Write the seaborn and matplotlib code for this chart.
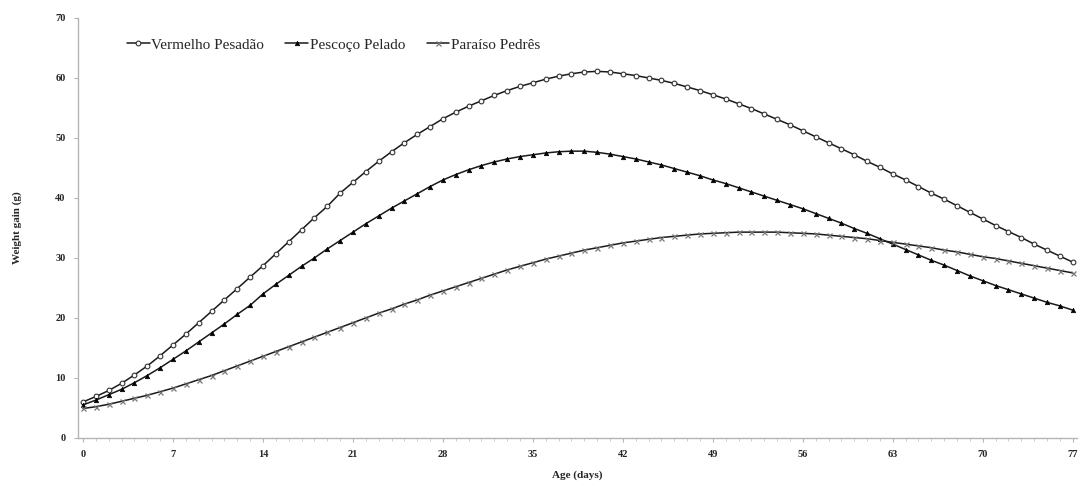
import numpy as np
import pandas as pd
import matplotlib
matplotlib.use("Agg")
import matplotlib.pyplot as plt
from matplotlib.ticker import MultipleLocator
import seaborn as sns

# Data (weight gain per day, g)
days = list(range(0, 78))

vermelho = [6.0, 6.9, 7.9, 9.1, 10.5, 12.0, 13.7, 15.5, 17.3, 19.2,
            21.1, 23.0, 24.9, 26.8, 28.7, 30.7, 32.7, 34.7, 36.7, 38.6,
            40.8, 42.6, 44.4, 46.1, 47.7, 49.2, 50.6, 51.9, 53.2, 54.3,
            55.3, 56.2, 57.1, 57.9, 58.6, 59.2, 59.8, 60.3, 60.7, 61.0,
            61.1, 61.0, 60.7, 60.4, 60.0, 59.6, 59.1, 58.5, 57.9, 57.2,
            56.5, 55.7, 54.9, 54.0, 53.1, 52.2, 51.2, 50.2, 49.2, 48.2,
            47.2, 46.1, 45.1, 44.0, 43.0, 41.9, 40.8, 39.8, 38.7, 37.6,
            36.5, 35.4, 34.4, 33.4, 32.3, 31.3, 30.3, 29.3]

pescoco = [5.5, 6.3, 7.2, 8.1, 9.2, 10.4, 11.7, 13.1, 14.5, 16.0,
           17.5, 19.0, 20.6, 22.1, 24.0, 25.6, 27.1, 28.6, 30.0, 31.5,
           32.9, 34.3, 35.7, 37.0, 38.3, 39.5, 40.7, 41.9, 43.0, 43.9,
           44.7, 45.4, 46.0, 46.5, 46.9, 47.2, 47.5, 47.7, 47.8, 47.8,
           47.6, 47.3, 46.9, 46.5, 46.0, 45.5, 44.9, 44.3, 43.7, 43.0,
           42.4, 41.7, 41.0, 40.3, 39.6, 38.9, 38.2, 37.4, 36.6, 35.8,
           34.9, 34.1, 33.2, 32.3, 31.4, 30.5, 29.6, 28.8, 27.9, 27.0,
           26.2, 25.4, 24.7, 24.0, 23.3, 22.6, 22.0, 21.3]

paraiso = [4.9, 5.2, 5.6, 6.1, 6.6, 7.1, 7.7, 8.3, 9.0, 9.7,
           10.4, 11.2, 12.0, 12.8, 13.6, 14.4, 15.2, 16.0, 16.8, 17.6,
           18.4, 19.2, 20.0, 20.8, 21.5, 22.3, 23.0, 23.8, 24.5, 25.2,
           25.9, 26.6, 27.3, 28.0, 28.6, 29.2, 29.8, 30.3, 30.8, 31.3,
           31.7, 32.1, 32.5, 32.8, 33.1, 33.4, 33.6, 33.8, 34.0, 34.1,
           34.2, 34.3, 34.3, 34.3, 34.3, 34.2, 34.1, 34.0, 33.8, 33.6,
           33.4, 33.2, 32.9, 32.6, 32.3, 32.0, 31.7, 31.3, 31.0, 30.6,
           30.2, 29.9, 29.5, 29.1, 28.7, 28.3, 27.9, 27.5]

series_names = ["Vermelho Pesadão", "Pescoço Pelado", "Paraíso Pedrês"]
x_ticks = list(range(0, 78, 7))

df = pd.DataFrame({
    "Age": days * 3,
    "Gain": vermelho + pescoco + paraiso,
    "Breed": [series_names[0]] * 78 + [series_names[1]] * 78 + [series_names[2]] * 78,
})

sns.set_theme(style="white")
plt.rcParams["font.family"] = ["Liberation Serif", "DejaVu Serif"]

fig = plt.figure(figsize=(10.82, 4.86), dpi=100)
ax = fig.add_axes([0.072, 0.099, 0.923, 0.864])

styles = {
    series_names[0]: dict(marker="o", markerfacecolor="white", markeredgecolor="#333333",
                          markersize=3.4, markeredgewidth=0.8),
    series_names[1]: dict(marker="^", markerfacecolor="black", markeredgecolor="black",
                          markersize=3.2, markeredgewidth=0.5),
    series_names[2]: dict(marker="x", markeredgecolor="#777777",
                          markersize=3.6, markeredgewidth=0.9),
}

for name in series_names:
    sub = df[df["Breed"] == name]
    sns.lineplot(data=sub, x="Age", y="Gain", ax=ax, color="#1a1a1a",
                 linewidth=1.1, label=name, **styles[name])

ax.set_xlim(-0.4, 77.3)
ax.set_ylim(0, 70)
ax.xaxis.set_major_locator(plt.FixedLocator(x_ticks))
ax.xaxis.set_minor_locator(MultipleLocator(1))
ax.yaxis.set_major_locator(MultipleLocator(10))

for s in ["top", "right"]:
    ax.spines[s].set_visible(False)
for s in ["left", "bottom"]:
    ax.spines[s].set_color("#b5b5b5")
    ax.spines[s].set_linewidth(1.0)

ax.tick_params(axis="both", which="major", direction="out", length=3, width=0.8,
               color="#b5b5b5", labelsize=7.5, pad=6)
ax.tick_params(axis="x", which="minor", direction="out", length=2, width=0.6,
               color="#c5c5c5", bottom=True)
ax.tick_params(axis="x", which="major", bottom=True)
ax.tick_params(axis="y", which="major", left=True)
for lab in ax.get_xticklabels() + ax.get_yticklabels():
    lab.set_fontweight("bold")

ax.set_xlabel("Age (days)", fontsize=8, fontweight="bold", labelpad=8)
ax.set_ylabel("Weight gain (g)", fontsize=8, fontweight="bold", labelpad=24)

leg = ax.legend(loc="upper left", bbox_to_anchor=(0.035, 0.985), ncol=3, frameon=False,
                fontsize=11, handlelength=1.5, handletextpad=0.1, columnspacing=1.4)

fig.savefig("out.png", dpi=100)
